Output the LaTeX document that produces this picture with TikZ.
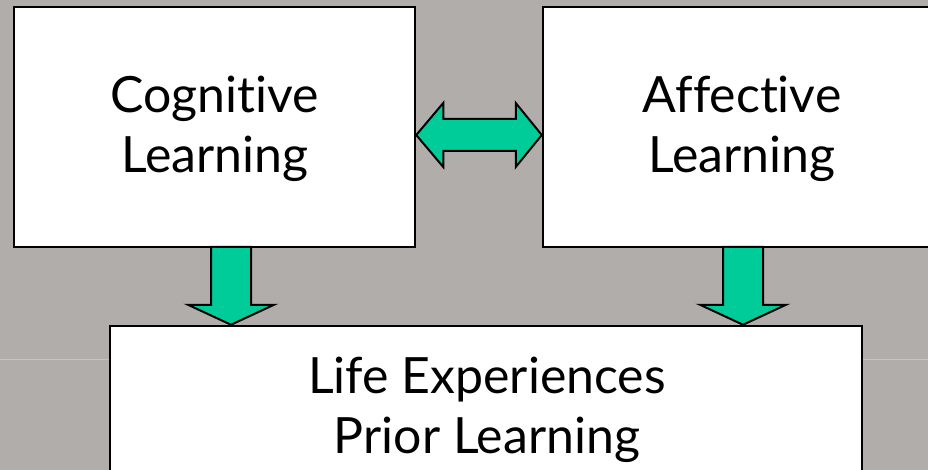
\documentclass[tikz,border=0pt]{standalone}
\usepackage{fontspec}
\setmainfont{Lato}[Ligatures=NoCommon]
\usetikzlibrary{calc}
\definecolor{bg}{HTML}{B1ADAA}
\definecolor{faint}{HTML}{C6C2BF}
\definecolor{arrowgreen}{HTML}{00CC99}
\begin{document}
\begin{tikzpicture}[x=1pt,y=-1pt,
  box/.style={draw=black, line width=2.5pt, fill=white, inner sep=0pt},
  boxtext/.style={font=\fontsize{50}{60}\selectfont, align=center, inner sep=0pt},
  fatarrow/.style={fill=arrowgreen, draw=black, line width=2pt, line join=miter}]
\useasboundingbox (0,0) rectangle (928,470);
\clip (0,0) rectangle (928,470);
\fill[bg] (0,0) rectangle (928,470);
\draw[faint, line width=1pt] (0,359) -- (928,359);
% boxes
\node[box, minimum width=401pt, minimum height=240pt] (cog) at (214.5,127) {};
\node[box, minimum width=399pt, minimum height=240pt] (aff) at (742.5,127) {};
\node[box, minimum width=752pt, minimum height=300pt] (life) at (486,476) {};
% texts
\node[boxtext] (cogtext) at (215,129) {Cognitive\\Learning};
\node[boxtext] (afftext) at (742,129) {Affective\\Learning};
\node[boxtext] (lifetext) at (487,410) {Life Experiences\\Prior Learning};
% double arrow between the upper boxes
\coordinate (dl) at (cog.east |- 0,135);
\coordinate (dr) at (aff.west |- 0,135);
\draw[fatarrow] (dl) -- ++(27,-32) -- ++(0,16) -- ($(dr)+(-26,-16)$) -- ++(0,-16) -- (dr)
  -- ++(-26,32) -- ++(0,-16) -- ($(dl)+(27,16)$) -- ++(0,16) -- cycle;
% down arrows
\coordinate (l1) at (231,247);
\coordinate (l2) at (l1 |- life.north);
\coordinate (r1) at (743,247);
\coordinate (r2) at (r1 |- life.north);
\draw[fatarrow] (l2) -- ++(-43,-20) -- ++(23,0) -- ($(l1)+(-20,0)$) -- ($(l1)+(20,0)$)
  -- ($(l2)+(20,-20)$) -- ++(23,0) -- cycle;
\draw[fatarrow] (r2) -- ++(-43,-20) -- ++(23,0) -- ($(r1)+(-20,0)$) -- ($(r1)+(20,0)$)
  -- ($(r2)+(20,-20)$) -- ++(23,0) -- cycle;
\end{tikzpicture}
\end{document}
